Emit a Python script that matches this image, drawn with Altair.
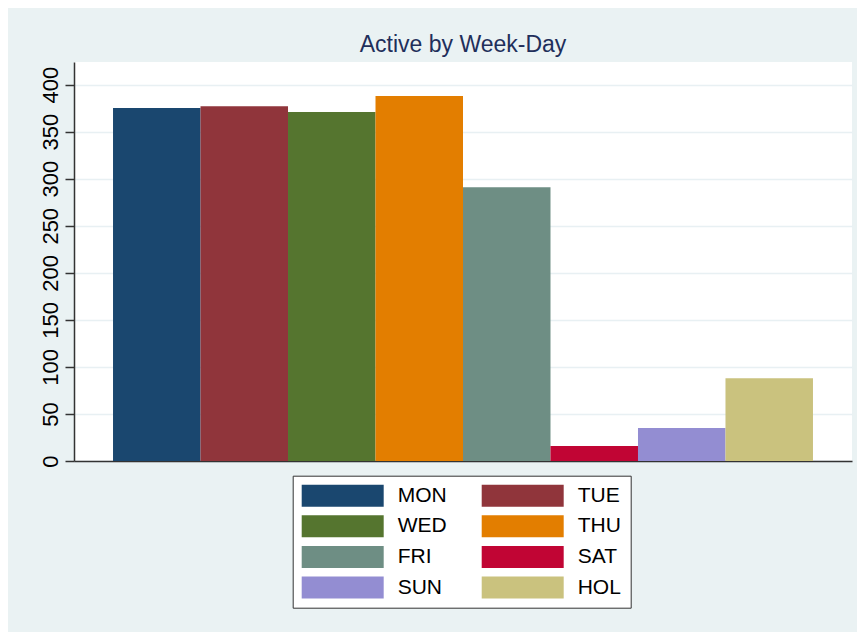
import altair as alt
import pandas as pd

days = ["MON", "TUE", "WED", "THU", "FRI", "SAT", "SUN", "HOL"]
counts = [375, 377, 371, 388, 291, 16, 35, 88]
colors = ["#1a476f", "#90353b", "#55752f", "#e37e00",
          "#6e8e84", "#c10534", "#938dd2", "#cac27e"]
y_ticks = [0, 50, 100, 150, 200, 250, 300, 350, 400]
title_text = "Active by Week-Day"

df = pd.DataFrame({"day": days, "count": counts})

FONT = "Liberation Sans, Arial, Helvetica, sans-serif"
BG = "#eaf2f3"

chart = alt.Chart(df).mark_bar().encode(
    x=alt.X(
        "day:N", sort=days,
        scale=alt.Scale(paddingInner=0, paddingOuter=0.446),
        axis=alt.Axis(title=None, labels=False, ticks=False, grid=False,
                      domainColor="#333333", domainWidth=1.5),
    ),
    y=alt.Y(
        "count:Q",
        scale=alt.Scale(domain=[0, 424], nice=False, zero=True),
        axis=alt.Axis(title=None, values=y_ticks, labelAngle=270,
                      labelAlign="center", labelBaseline="alphabetic",
                      labelFontSize=22, labelFont=FONT, labelColor="#000000",
                      labelPadding=8, tickSize=9, tickColor="#333333",
                      tickWidth=1.5, domainColor="#333333", domainWidth=1.5,
                      grid=True, gridColor="#e8f0f3", gridWidth=1.5),
    ),
    color=alt.Color(
        "day:N",
        scale=alt.Scale(domain=days, range=colors),
        legend=alt.Legend(
            title=None, orient="none", legendX=218.7, legendY=413.7,
            direction="horizontal", columns=2,
            symbolType="M-3.727,-1H3.727V1H-3.727Z", symbolSize=484,
            symbolStrokeWidth=0, symbolOpacity=1, symbolOffset=30,
            labelFontSize=21, labelFont=FONT, labelColor="#000000",
            labelOffset=44, rowPadding=8.6, columnPadding=35,
            padding=9, strokeColor="#333333", fillColor="#ffffff",
        ),
    ),
).properties(
    width=778,
    height=399,
    title=alt.TitleParams(title_text, fontSize=23, font=FONT,
                          fontWeight="normal", color="#1f2f5b",
                          anchor="middle", offset=5),
    padding={"left": 66, "top": 54, "right": 5, "bottom": 171},
    autosize=alt.AutoSizeParams(type="none"),
    background=BG,
).configure_view(stroke=None, fill="#ffffff")

chart.save("out.html", embed_options={"renderer": "svg", "actions": False})
